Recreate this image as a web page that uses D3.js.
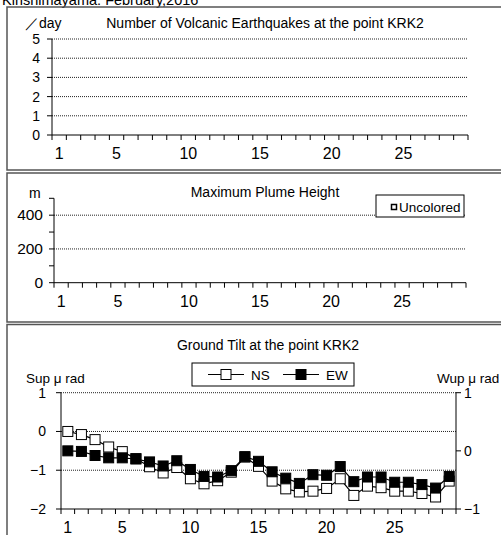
<!DOCTYPE html>
<html lang="en">
<head>
<meta charset="utf-8"/>
<title>Kirishimayama February 2016</title>
<script src="https://cdn.jsdelivr.net/npm/d3@7"></script>
<style>
  body { margin: 0; background: #fff; }
  svg { display: block; font-family: "Liberation Sans", Arial, sans-serif; }
  .grid { stroke: #222; stroke-width: 1; stroke-dasharray: 1,1; }
  .frame { fill: none; stroke: #555; stroke-width: 1.5; }
</style>
</head>
<body>
<svg id="chart"></svg>
<script>
const width = 501
const height = 535

// categories: days of February 2016
const days = [1,2,3,4,5,6,7,8,9,10,11,12,13,14,15,16,17,18,19,20,21,22,23,24,25,26,27,28,29]
const dayLabels = [1,5,10,15,20,25]

// volcanic earthquakes per day (none recorded)
const quakes = [0,0,0,0,0,0,0,0,0,0,0,0,0,0,0,0,0,0,0,0,0,0,0,0,0,0,0,0,0]
const quakeTicks = [0,1,2,3,4,5]

// plume height (no observations)
const plume = []
const plumeTicks = [0,200,400]

// ground tilt, micro radians
const nsTilt = [0.00,-0.08,-0.21,-0.40,-0.52,-0.70,-0.91,-1.07,-0.93,-1.22,-1.35,-1.27,-1.05,-0.66,-0.90,-1.28,-1.48,-1.56,-1.54,-1.47,-1.22,-1.65,-1.41,-1.45,-1.54,-1.54,-1.60,-1.69,-1.28]
const ewTilt = [0.00,-0.01,-0.08,-0.12,-0.12,-0.14,-0.19,-0.26,-0.17,-0.32,-0.44,-0.45,-0.34,-0.10,-0.18,-0.36,-0.47,-0.56,-0.41,-0.42,-0.27,-0.53,-0.45,-0.45,-0.54,-0.54,-0.58,-0.64,-0.44]
const tiltLeftTicks = [-2,-1,0,1]
const tiltRightTicks = [-1,0,1]

const svg = d3.select('#chart').attr('width', width).attr('height', height)

// page title, mostly cut off at the top like the original
svg.append('text').attr('x', 2).attr('y', 5).attr('font-size', 14.5)
  .text('Kirishimayama: February,2016')

// panel frames
svg.append('rect').attr('class','frame').attr('x', 7).attr('y', 7).attr('width', 500).attr('height', 163)
svg.append('rect').attr('class','frame').attr('x', 7).attr('y', 173).attr('width', 500).attr('height', 149)
svg.append('rect').attr('class','frame').attr('x', 7).attr('y', 324.5).attr('width', 500).attr('height', 220)

// draws the day axis: boundary ticks plus labels on selected days
function dayAxis(x, y0, labelY) {
  const g = svg.append('g')
  g.append('line').attr('x1', x.range()[0]).attr('x2', x.range()[1]).attr('y1', y0).attr('y2', y0)
    .attr('stroke', '#000')
  const bounds = days.map(d => x(d)).concat([x.range()[1]])
  g.selectAll('.tk').data(bounds).enter().append('line')
    .attr('x1', d => d).attr('x2', d => d).attr('y1', y0).attr('y2', y0 + 5)
    .attr('stroke', '#000')
  g.selectAll('.lb').data(dayLabels).enter().append('text')
    .attr('x', d => x(d) + x.bandwidth() / 2).attr('y', labelY)
    .attr('text-anchor', 'middle').attr('font-size', 16)
    .text(d => d)
}

function leftAxis(y, x0, ticks, minor, labelX, fs) {
  const g = svg.append('g')
  g.append('line').attr('x1', x0).attr('x2', x0).attr('y1', y.range()[0]).attr('y2', y.range()[1])
    .attr('stroke', '#000')
  g.selectAll('.tk').data(minor).enter().append('line')
    .attr('x1', x0 - 5).attr('x2', x0).attr('y1', d => y(d)).attr('y2', d => y(d))
    .attr('stroke', '#000')
  g.selectAll('.lb').data(ticks).enter().append('text')
    .attr('x', labelX).attr('y', d => y(d) + 5).attr('text-anchor', 'end').attr('font-size', fs)
    .text(d => d < 0 ? '\u2212' + Math.abs(d) : d)
}

// ---------- panel 1: earthquakes ----------
{
  const x = d3.scaleBand().domain(days).range([52, 468])
  const y = d3.scaleLinear().domain([0, 5]).range([135, 39])
  svg.append('g').selectAll('line').data(quakeTicks.filter(d => d > 0)).enter().append('line')
    .attr('class','grid').attr('x1', 52).attr('x2', 468).attr('y1', d => y(d)).attr('y2', d => y(d))
  svg.append('g').selectAll('rect').data(quakes).enter().append('rect')
    .attr('x', (d, i) => x(days[i]) + 3).attr('width', x.bandwidth() - 6)
    .attr('y', d => y(d)).attr('height', d => y(0) - y(d)).attr('fill', '#000')
  leftAxis(y, 52, quakeTicks, quakeTicks, 40, 14)
  dayAxis(x, 135, 159)
  svg.append('text').attr('x', 25).attr('y', 28).attr('font-size', 14).text('\uff0fday')
  svg.append('text').attr('x', 265).attr('y', 28).attr('font-size', 14).attr('text-anchor', 'middle')
    .text('Number of Volcanic Earthquakes at the point KRK2')
}

// ---------- panel 2: plume height ----------
{
  const x = d3.scaleBand().domain(days).range([54, 466])
  const y = d3.scaleLinear().domain([0, 500]).range([282.7, 198.3])
  svg.append('g').selectAll('line').data(plumeTicks.filter(d => d > 0)).enter().append('line')
    .attr('class','grid').attr('x1', 54).attr('x2', 466).attr('y1', d => y(d)).attr('y2', d => y(d))
  svg.append('g').selectAll('rect').data(plume).enter().append('rect')
    .attr('x', d => x(d.day) + 3).attr('width', x.bandwidth() - 6)
    .attr('y', d => y(d.h)).attr('height', d => y(0) - y(d.h)).attr('fill', '#fff').attr('stroke', '#000')
  leftAxis(y, 54, plumeTicks, [0,100,200,300,400,500], 43, 15.5)
  dayAxis(x, 282.7, 307)
  svg.append('text').attr('x', 29).attr('y', 198).attr('font-size', 14).text('m')
  svg.append('text').attr('x', 265).attr('y', 197).attr('font-size', 14).attr('text-anchor', 'middle')
    .text('Maximum Plume Height')
  svg.append('rect').attr('x', 376).attr('y', 195).attr('width', 88).attr('height', 22)
    .attr('fill', '#fff').attr('stroke', '#000')
  svg.append('rect').attr('x', 391.5).attr('y', 204.5).attr('width', 5).attr('height', 5)
    .attr('fill', '#fff').attr('stroke', '#000').attr('stroke-width', 1.5)
  svg.append('text').attr('x', 399).attr('y', 211.5).attr('font-size', 13.5).text('Uncolored')
}

// ---------- panel 3: ground tilt ----------
{
  const x = d3.scaleBand().domain(days).range([61, 456])
  const yL = d3.scaleLinear().domain([-2, 1]).range([509, 392.7])
  const yR = d3.scaleLinear().domain([-1, 1]).range([509, 392.7])
  svg.append('g').selectAll('line').data([1, 0, -1]).enter().append('line')
    .attr('class','grid').attr('x1', 61).attr('x2', 456).attr('y1', d => yL(d)).attr('y2', d => yL(d))
    .attr('stroke-width', d => d === 1 ? 2 : 1)
  leftAxis(yL, 61, tiltLeftTicks, tiltLeftTicks, 46, 14)

  // right axis
  const gr = svg.append('g')
  gr.append('line').attr('x1', 456).attr('x2', 456).attr('y1', 509).attr('y2', 392.7).attr('stroke', '#000')
  gr.selectAll('.tk').data(tiltRightTicks).enter().append('line')
    .attr('x1', 456).attr('x2', 461).attr('y1', d => yR(d)).attr('y2', d => yR(d)).attr('stroke', '#000')
  gr.selectAll('.lb').data(tiltRightTicks).enter().append('text')
    .attr('x', 464).attr('y', d => yR(d) + 5).attr('font-size', 14)
    .text(d => d < 0 ? '\u2212' + Math.abs(d) : d)

  dayAxis(x, 509, 533)

  const cx = (d, i) => x(days[i]) + x.bandwidth() / 2
  const series = [
    { vals: nsTilt, y: yL, fill: '#fff' },
    { vals: ewTilt, y: yR, fill: '#000' }
  ]
  series.forEach(s => {
    svg.append('path').datum(s.vals)
      .attr('d', d3.line().x(cx).y(d => s.y(d)))
      .attr('fill', 'none').attr('stroke', '#000').attr('stroke-width', 1.2)
    svg.append('g').selectAll('rect').data(s.vals).enter().append('rect')
      .attr('x', (d, i) => cx(d, i) - 5).attr('y', d => s.y(d) - 5)
      .attr('width', 10).attr('height', 10)
      .attr('fill', s.fill).attr('stroke', '#000').attr('stroke-width', 1)
  })

  svg.append('text').attr('x', 268).attr('y', 350).attr('font-size', 14).attr('text-anchor', 'middle')
    .text('Ground Tilt at the point KRK2')
  svg.append('text').attr('x', 26).attr('y', 383).attr('font-size', 13.5).text('Sup \u03bc rad')
  svg.append('text').attr('x', 437).attr('y', 383).attr('font-size', 13.5).text('Wup \u03bc rad')

  // legend
  const lg = svg.append('g')
  lg.append('rect').attr('x', 192).attr('y', 363).attr('width', 162).attr('height', 23)
    .attr('fill', '#fff').attr('stroke', '#000')
  const items = [{ name: 'NS', fill: '#fff', x: 208 }, { name: 'EW', fill: '#000', x: 283 }]
  items.forEach(it => {
    lg.append('line').attr('x1', it.x).attr('x2', it.x + 36).attr('y1', 374.5).attr('y2', 374.5)
      .attr('stroke', '#000').attr('stroke-width', 1.2)
    lg.append('rect').attr('x', it.x + 13).attr('y', 369.5).attr('width', 10).attr('height', 10)
      .attr('fill', it.fill).attr('stroke', '#000')
    lg.append('text').attr('x', it.x + 43).attr('y', 379.5).attr('font-size', 13.5).text(it.name)
  })
}
</script>
</body>
</html>
